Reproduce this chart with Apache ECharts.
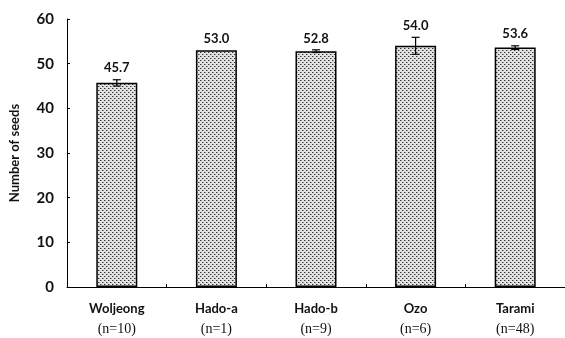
<!DOCTYPE html>
<html>
<head>
<meta charset="utf-8">
<script src="https://cdn.jsdelivr.net/npm/echarts@6/dist/echarts.min.js"></script>
<style>
  html, body { margin: 0; padding: 0; background: #fff; }
  #chart { width: 565px; height: 338px; }
</style>
</head>
<body>
<div id="chart"></div>
<script>
// Mean number of seeds per population, with standard error
const populations = ['Woljeong', 'Hado-a', 'Hado-b', 'Ozo', 'Tarami'];
const sampleSizes = ['(n=10)', '(n=1)', '(n=9)', '(n=6)', '(n=48)'];
const meanSeeds = [45.7, 53.0, 52.8, 54.0, 53.6];
const stdErrors = [0.7, 0, 0.3, 1.9, 0.4];
const yTicks = { min: 0, max: 60, interval: 10 };

// Stippled fill for the bars
function dotPattern() {
  const c = document.createElement('canvas');
  c.width = 4; c.height = 4;
  const g = c.getContext('2d');
  g.fillStyle = '#e2e2e2';
  g.fillRect(0, 0, 4, 4);
  g.fillStyle = '#333';
  g.fillRect(0, 0, 1, 1);
  g.fillRect(2, 2, 1, 1);
  g.fillStyle = '#999';
  g.fillRect(1, 0, 1, 1);
  g.fillRect(3, 2, 1, 1);
  return c;
}

const chart = echarts.init(document.getElementById('chart'), null, { renderer: 'canvas' });

const labelFont = 'Lato, "DejaVu Sans", sans-serif';

chart.setOption({
  animation: false,
  grid: { left: 63, top: 19, bottom: 51, width: 505 },
  xAxis: {
    type: 'category',
    data: populations,
    axisLine: { lineStyle: { color: '#000', width: 1 } },
    axisTick: { show: true, inside: true, length: 3, lineStyle: { color: '#000' } },
    axisLabel: {
      margin: 12,
      interval: 0,
      formatter: (v, i) => '{name|' + v + '}\n{n|' + sampleSizes[i] + '}',
      rich: {
        name: { fontFamily: labelFont, fontWeight: 'bold', fontSize: 13, color: '#111', lineHeight: 20 },
        n: { fontFamily: '"Liberation Serif", "DejaVu Serif", serif', fontSize: 14, color: '#111', lineHeight: 20 }
      }
    }
  },
  yAxis: {
    type: 'value',
    min: yTicks.min,
    max: yTicks.max,
    interval: yTicks.interval,
    name: 'Number of seeds',
    nameLocation: 'middle',
    nameGap: 46,
    nameRotate: 90,
    nameTextStyle: { fontFamily: labelFont, fontWeight: 'bold', fontSize: 13, color: '#111' },
    splitLine: { show: false },
    axisLine: { show: true, lineStyle: { color: '#000', width: 1 } },
    axisTick: { show: true, inside: true, length: 3, lineStyle: { color: '#000' } },
    axisLabel: { margin: 13, fontFamily: labelFont, fontWeight: 'bold', fontSize: 15, color: '#111' }
  },
  series: [
    {
      type: 'bar',
      data: meanSeeds,
      barWidth: 41,
      itemStyle: {
        color: { image: dotPattern(), repeat: 'repeat' },
        borderColor: '#000',
        borderWidth: 1.5
      }
    },
    {
      type: 'custom',
      data: meanSeeds.map((m, i) => [i, m, stdErrors[i]]),
      z: 10,
      renderItem: (params, api) => {
        const idx = api.value(0);
        const mean = api.value(1);
        const err = api.value(2);
        const top = api.coord([idx, mean + err]);
        const bot = api.coord([idx, mean - err]);
        const cap = 4;
        const children = [];
        if (err > 0) {
          children.push(
            { type: 'line', shape: { x1: top[0], y1: top[1], x2: bot[0], y2: bot[1] }, style: { stroke: '#000', lineWidth: 1.2 } },
            { type: 'line', shape: { x1: top[0] - cap, y1: top[1], x2: top[0] + cap, y2: top[1] }, style: { stroke: '#000', lineWidth: 1.2 } },
            { type: 'line', shape: { x1: bot[0] - cap, y1: bot[1], x2: bot[0] + cap, y2: bot[1] }, style: { stroke: '#000', lineWidth: 1.2 } }
          );
        }
        children.push({
          type: 'text',
          style: {
            x: top[0],
            y: top[1] - 5,
            text: mean.toFixed(1),
            align: 'center',
            verticalAlign: 'bottom',
            fontFamily: labelFont,
            fontWeight: 'bold',
            fontSize: 13,
            fill: '#111'
          }
        });
        return { type: 'group', children };
      }
    }
  ]
});
</script>
</body>
</html>
